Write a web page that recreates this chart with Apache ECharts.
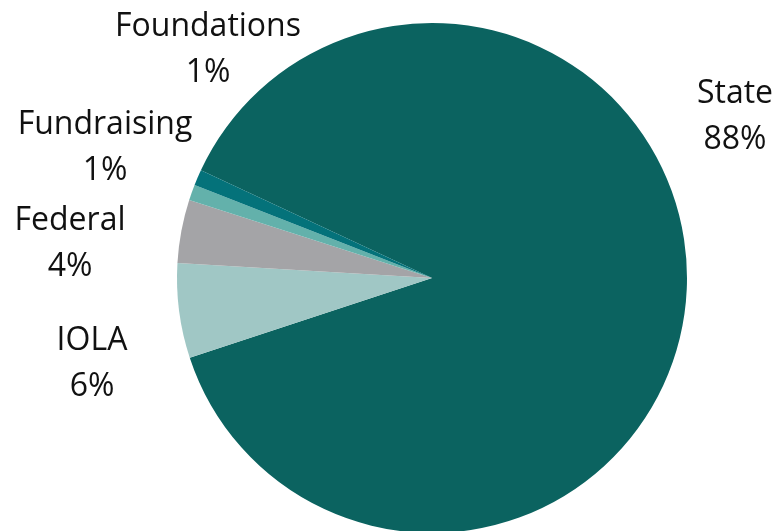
<!DOCTYPE html>
<html>
<head>
<meta charset="utf-8">
<script src="https://cdn.jsdelivr.net/npm/echarts@6/dist/echarts.min.js"></script>
<style>
html,body{margin:0;padding:0;background:#fff;}
#chart{width:780px;height:531px;}
</style>
</head>
<body>
<div id="chart"></div>
<script>
const categories = ["State", "IOLA", "Federal", "Fundraising", "Foundations"];
const values = [88, 6, 4, 1, 1];
const colors = ["#0b6360", "#a0c7c5", "#a4a4a7", "#63b1ab", "#04727a"];

// label block centers (layout, not data)
const labelPos = [[735, 117], [92, 364], [70, 244], [105, 148], [208, 50]];

const chart = echarts.init(document.getElementById('chart'), null, {renderer: 'canvas'});
chart.setOption({
  animation: false,
  series: [{
    type: 'pie',
    center: [432, 278],
    radius: 255,
    startAngle: 155,
    clockwise: true,
    avoidLabelOverlap: false,
    data: categories.map((c, i) => ({name: c, value: values[i], itemStyle: {color: colors[i]}})),
    itemStyle: {borderWidth: 0},
    label: {
      show: true,
      position: 'outside',
      formatter: p => p.name + '\n' + p.value + '%',
      fontFamily: 'Open Sans',
      fontSize: 32,
      lineHeight: 46,
      color: '#111',
      align: 'center'
    },
    labelLine: {show: false},
    labelLayout: function (params) {
      const p = labelPos[params.dataIndex];
      return {x: p[0], y: p[1], align: 'center', verticalAlign: 'middle'};
    },
    emphasis: {disabled: true}
  }]
});
</script>
</body>
</html>
